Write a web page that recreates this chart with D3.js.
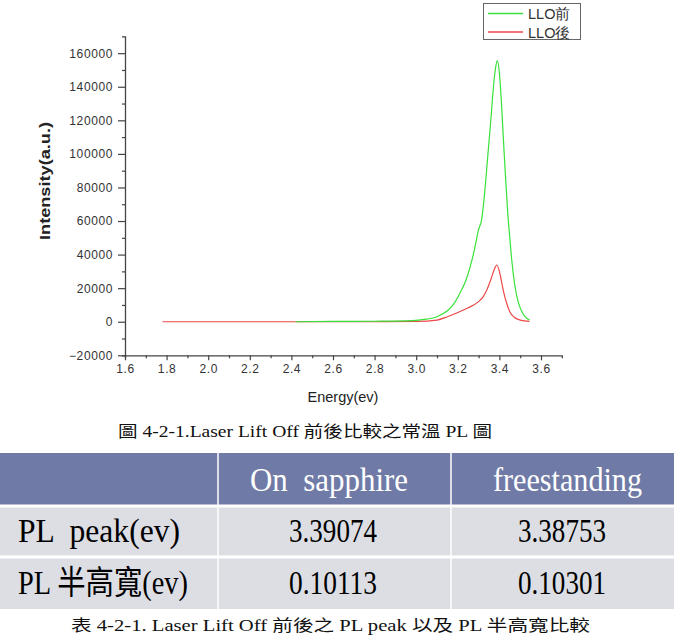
<!DOCTYPE html>
<html>
<head>
<meta charset="utf-8">
<script src="https://cdn.jsdelivr.net/npm/d3@7"></script>
<style>
  body { margin: 0; background: #fff; }
  svg { display: block; }
  text { white-space: pre; }
</style>
</head>
<body>
<svg id="chart" width="674" height="636"></svg>
<script>
// LLO前 (before lift off)
var energyBefore = [2.42, 2.6, 2.8, 2.95, 3.0, 3.05, 3.1, 3.15, 3.18, 3.21, 3.24, 3.26, 3.28, 3.30, 3.315, 3.33, 3.345, 3.36, 3.37, 3.38, 3.39, 3.40, 3.41, 3.42, 3.43, 3.44, 3.45, 3.46, 3.475, 3.49, 3.51, 3.53, 3.545];
var intensityBefore = [0, 200, 300, 500, 800, 1500, 3000, 6500, 10500, 17000, 25000, 33000, 43000, 55000, 61000, 78000, 100000, 122000, 138000, 150000, 155600, 148000, 130000, 107000, 85000, 65000, 50000, 36000, 21000, 12000, 5500, 2200, 1000];
// LLO後 (after lift off)
var energyAfter = [1.78, 2.0, 2.4, 2.8, 3.0, 3.1, 3.15, 3.2, 3.25, 3.3, 3.32, 3.34, 3.36, 3.375, 3.387, 3.40, 3.41, 3.42, 3.435, 3.45, 3.47, 3.5, 3.545];
var intensityAfter = [0, 0, 0, 0, 200, 1000, 3000, 5500, 8300, 12000, 14500, 19000, 25500, 31000, 33800, 30000, 24000, 18000, 11000, 6000, 2800, 1000, 200];

var seriesNames = ["LLO前", "LLO後"];
var seriesColors = ["#38e238", "#ec4848"];

var xTicks = [1.6, 1.8, 2.0, 2.2, 2.4, 2.6, 2.8, 3.0, 3.2, 3.4, 3.6];
var yTicks = [-20000, 0, 20000, 40000, 60000, 80000, 100000, 120000, 140000, 160000];

var tableHead = ["", "On  sapphire", "freestanding"];
var tableRows = [
  ["PL  peak(ev)", "3.39074", "3.38753"],
  ["PL 半高寬(ev)", "0.10113", "0.10301"]
];
var figCaption = "圖 4-2-1.Laser Lift Off 前後比較之常溫 PL 圖";
var tableCaption = "表 4-2-1. Laser Lift Off 前後之 PL peak 以及 PL 半高寬比較";

var svg = d3.select("#chart");
var x = d3.scaleLinear().domain([1.6, 3.7]).range([125, 561.8]),
    y = d3.scaleLinear().domain([-20000, 170000]).range([355.3, 36.4]);

var axisColor = "#444", labelFont = "Arial, 'Liberation Sans', sans-serif";

// x axis
var gx = svg.append("g").attr("transform", "translate(0," + y(-20000) + ")");
gx.call(d3.axisBottom(x).tickValues(d3.range(1.7, 3.7, 0.2)).tickSize(3).tickFormat(""));
gx.call(function(g) {
  var ax = g.append("g");
  ax.call(d3.axisBottom(x).tickValues(xTicks).tickSize(5).tickPadding(4).tickFormat(d3.format(".1f")));
  ax.select(".domain").remove();
});
// y axis
var gy = svg.append("g").attr("transform", "translate(" + x(1.6) + ",0)");
gy.call(d3.axisLeft(y).tickValues(d3.range(-10000, 170000, 20000)).tickSize(3).tickFormat(""));
gy.call(function(g) {
  var ay = g.append("g");
  ay.call(d3.axisLeft(y).tickValues(yTicks).tickSize(7).tickPadding(5).tickFormat(d3.format("d")));
  ay.select(".domain").remove();
});
svg.selectAll(".domain").attr("stroke", axisColor).attr("stroke-width", 1.3);
svg.selectAll(".tick line").attr("stroke", axisColor).attr("stroke-width", 1.2);
svg.selectAll(".tick text").attr("font-family", labelFont).attr("font-size", 12)
  .attr("letter-spacing", 0.6).attr("fill", "#333");

svg.append("text").attr("x", 343).attr("y", 402).attr("text-anchor", "middle")
  .attr("font-family", labelFont).attr("font-size", 14.5).attr("fill", "#222").text("Energy(ev)");
svg.append("text").attr("transform", "translate(50,181) rotate(-90)").attr("text-anchor", "middle")
  .attr("font-family", labelFont).attr("font-size", 14).attr("font-weight", "bold").attr("fill", "#222")
  .attr("textLength", 118).attr("lengthAdjust", "spacingAndGlyphs")
  .text("Intensity(a.u.)");

// curves
var line = d3.line().curve(d3.curveMonotoneX)
  .x(function(d) { return x(d[0]); }).y(function(d) { return y(d[1]); });
var curves = [d3.zip(energyBefore, intensityBefore), d3.zip(energyAfter, intensityAfter)];
// red first at the baseline, green drawn over it
svg.selectAll(".curve").data([curves[1], curves[0]]).enter().append("path")
  .attr("class", "curve").attr("fill", "none")
  .attr("stroke", function(d, i) { return i == 0 ? seriesColors[1] : seriesColors[0]; })
  .attr("stroke-width", 1.2)
  .attr("d", line);

// legend
var lg = svg.append("g");
lg.append("rect").attr("x", 483.5).attr("y", 3.5).attr("width", 97).attr("height", 36)
  .attr("fill", "#fff").attr("stroke", "#666");
seriesNames.forEach(function(n, i) {
  lg.append("line").attr("x1", 488).attr("x2", 523).attr("y1", 13.5 + i * 18.5).attr("y2", 13.5 + i * 18.5)
    .attr("stroke", seriesColors[i]).attr("stroke-width", 1.5);
  lg.append("text").attr("x", 528).attr("y", 19 + i * 18.5).attr("font-family", labelFont)
    .attr("font-size", 14.5).attr("fill", "#333").text(n);
});

// figure caption
var capFont = "'Liberation Serif', 'Noto Sans CJK TC', serif";
svg.append("text").attr("x", 118).attr("y", 437).attr("font-family", capFont).attr("font-size", 16)
  .attr("textLength", 374).attr("lengthAdjust", "spacingAndGlyphs").attr("fill", "#111").text(figCaption);

// table
var colX = [0, 218, 451, 674], rowY = [453, 506, 557, 609];
var tbl = svg.append("g");
tbl.append("rect").attr("x", 0).attr("y", rowY[0]).attr("width", 674).attr("height", rowY[1] - rowY[0]).attr("fill", "#6f7ba6");
tbl.append("rect").attr("x", 0).attr("y", rowY[1]).attr("width", 674).attr("height", rowY[3] - rowY[1]).attr("fill", "#dcdee4");
[rowY[1], rowY[2]].forEach(function(yy) {
  tbl.append("line").attr("x1", 0).attr("x2", 674).attr("y1", yy).attr("y2", yy).attr("stroke", "#fff").attr("stroke-width", 3);
});
[colX[1], colX[2]].forEach(function(xx) {
  tbl.append("line").attr("x1", xx).attr("x2", xx).attr("y1", rowY[0]).attr("y2", rowY[3]).attr("stroke", "#fff").attr("stroke-width", 1.5);
});
var cellFont = "'Liberation Serif', 'Noto Sans CJK TC', serif";
function cell(txt, x0, cy, w, color) {
  tbl.append("text").attr("x", x0).attr("y", cy)
    .attr("font-family", cellFont).attr("font-size", 33).attr("fill", color)
    .attr("textLength", w).attr("lengthAdjust", "spacingAndGlyphs").text(txt);
}
cell(tableHead[1], 250, 491, 158, "#fff");
cell(tableHead[2], 493, 491, 149, "#fff");
cell(tableRows[0][0], 18, 542, 162, "#000");
cell(tableRows[1][0], 18, 594, 170, "#000");
tableRows.forEach(function(r, i) {
  cell(r[1], 289, 542 + i * 52, 88, "#000");
  cell(r[2], 518, 542 + i * 52, 88, "#000");
});

svg.append("text").attr("x", 71).attr("y", 631).attr("font-family", capFont).attr("font-size", 16)
  .attr("textLength", 519).attr("lengthAdjust", "spacingAndGlyphs").attr("fill", "#111").text(tableCaption);
</script>
</body>
</html>
